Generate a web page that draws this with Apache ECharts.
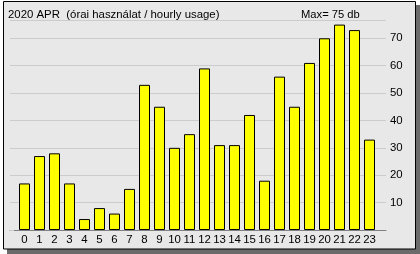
<!DOCTYPE html>
<html><head><meta charset="utf-8">
<script src="https://cdn.jsdelivr.net/npm/echarts@6/dist/echarts.min.js"></script>
<style>html,body{margin:0;padding:0;background:#fff}#c{width:420px;height:254px}</style>
</head><body><div id="c"></div><script>
const hours = ['0','1','2','3','4','5','6','7','8','9','10','11','12','13','14','15','16','17','18','19','20','21','22','23'];
const usage = [17,27,28,17,4,8,6,15,53,45,30,35,59,31,31,42,18,56,45,61,70,75,73,33];
const yTicks = [10,20,30,40,50,60,70];
const titleText = '2020 APR  (órai használat / hourly usage)';
const maxText = 'Max= 75 db';

const FONT = '"Liberation Sans", Arial, sans-serif';
const YMAX = 76.68;
const chart = echarts.init(document.getElementById('c'), null, {renderer: 'canvas'});
chart.setOption({
  backgroundColor: '#ffffff',
  animation: false,
  graphic: [
    {type: 'rect', z: -20, silent: true, shape: {x: 7, y: 5, width: 413, height: 249}, style: {fill: '#6b6b6b'}},
    {type: 'rect', z: -19, silent: true, shape: {x: 3.5, y: 1.5, width: 412, height: 247.5}, style: {fill: '#e8e8e8', stroke: '#000', lineWidth: 1}}
  ],
  title: [
    {text: titleText, left: 8, top: 8, padding: 0, textStyle: {fontFamily: FONT, fontSize: 11.4, fontWeight: 'normal', color: '#000', lineHeight: 13}},
    {text: maxText, left: 301, top: 8, padding: 0, textStyle: {fontFamily: FONT, fontSize: 11.2, fontWeight: 'normal', color: '#000', lineHeight: 13}}
  ],
  grid: [
    {left: 17, width: 360, top: 20, bottom: 24, containLabel: false},
    {left: 10, width: 376, top: 20, bottom: 24, containLabel: false}
  ],
  xAxis: [
    {gridIndex: 0, type: 'category', data: hours, axisLine: {show: false}, axisTick: {show: false},
     axisLabel: {margin: 4, interval: 0, fontFamily: FONT, fontSize: 11.4, color: '#000'}},
    {gridIndex: 1, type: 'value', min: 0, max: 1, axisLine: {show: true, lineStyle: {color: '#808080', width: 1}},
     axisTick: {show: false}, axisLabel: {show: false}, splitLine: {show: false}}
  ],
  yAxis: [
    {gridIndex: 0, type: 'value', min: 0, max: YMAX, show: false, splitLine: {show: false}},
    {gridIndex: 1, type: 'value', position: 'right', min: 0, max: YMAX, interval: 10,
     axisLine: {show: false}, axisTick: {show: true, length: 4, lineStyle: {color: '#cccccc'}},
     splitLine: {show: true, lineStyle: {color: '#cccccc', width: 1}},
     axisLabel: {margin: 4, fontFamily: FONT, fontSize: 11.4, color: '#000',
       formatter: v => yTicks.includes(v) ? String(v) : ''}}
  ],
  series: [{
    type: 'bar', xAxisIndex: 0, yAxisIndex: 0, data: usage, barWidth: 11,
    itemStyle: {color: '#ffff00', borderColor: '#000', borderWidth: 1}
  }]
});
</script></body></html>
